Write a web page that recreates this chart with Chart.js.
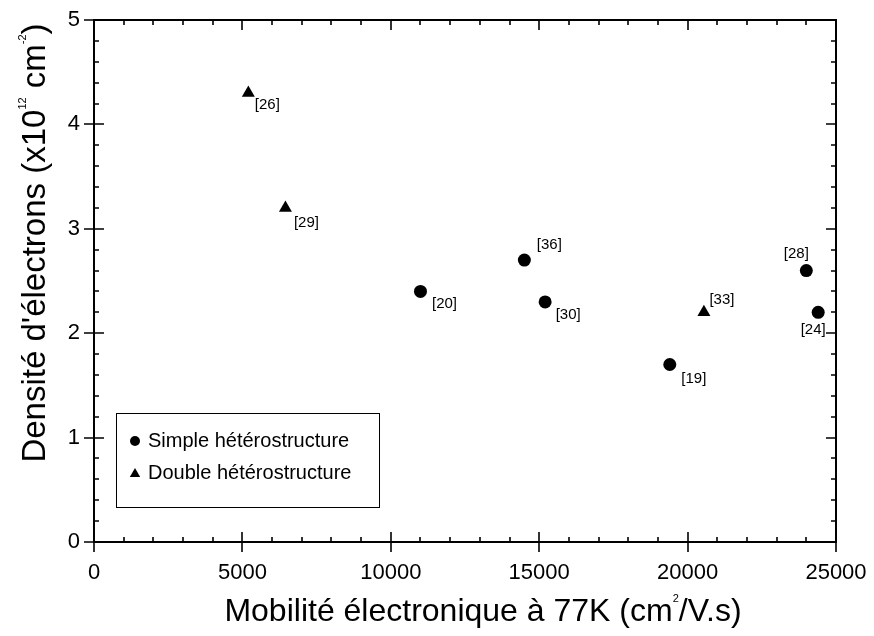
<!DOCTYPE html>
<html><head><meta charset="utf-8">
<script src="https://cdn.jsdelivr.net/npm/chart.js@4/dist/chart.umd.min.js"></script>
<style>html,body{margin:0;padding:0;background:#fff}#wrap{width:874px;height:636px}</style>
</head><body><div id="wrap"><canvas id="c" width="874" height="636"></canvas></div>
<script>
// ---- data ----
const simpleRefs = ['[20]', '[36]', '[30]', '[19]', '[28]', '[24]'];
const simpleMobility = [11000, 14500, 15200, 19400, 24000, 24400];
const simpleDensity = [2.4, 2.7, 2.3, 1.7, 2.6, 2.2];
const doubleRefs = ['[26]', '[29]', '[33]'];
const doubleMobility = [5200, 6450, 20550];
const doubleDensity = [4.3, 3.2, 2.2];
const seriesNames = ['Simple hétérostructure', 'Double hétérostructure'];
const xTicks = [0, 5000, 10000, 15000, 20000, 25000];
const yTicks = [0, 1, 2, 3, 4, 5];

// ---- label placement (style, not data) ----
const labelOffsets = {
  '[20]': [24, 12], '[36]': [25, -15], '[30]': [23, 13], '[19]': [24, 14],
  '[28]': [-10, -17], '[24]': [-5, 18], '[26]': [19, 12], '[29]': [21, 15], '[33]': [18, -12]
};
const FONT = '"Liberation Sans", Arial, sans-serif';

const toPts = (xs, ys) => xs.map((x, i) => ({x: x, y: ys[i]}));

const framePlugin = {
  id: 'frame',
  afterDraw(chart) {
    const {ctx, chartArea: a, scales} = chart;
    const xs = scales.x, ys = scales.y;
    ctx.save();
    ctx.strokeStyle = '#000';
    ctx.lineWidth = 2;
    ctx.strokeRect(a.left, a.top, a.right - a.left, a.bottom - a.top);
    ctx.lineWidth = 1.6;
    ctx.beginPath();
    for (let v = xs.min; v <= xs.max; v += 1000) {
      const px = Math.round(xs.getPixelForValue(v));
      const major = v % 5000 === 0;
      if (major) {
        ctx.moveTo(px, a.bottom - 10); ctx.lineTo(px, a.bottom + 10);
        ctx.moveTo(px, a.top); ctx.lineTo(px, a.top + 10);
      } else {
        ctx.moveTo(px, a.bottom); ctx.lineTo(px, a.bottom - 5);
        ctx.moveTo(px, a.top); ctx.lineTo(px, a.top + 5);
      }
    }
    for (let k = 0; k <= 25; k++) {
      const v = k / 5;
      const py = Math.round(ys.getPixelForValue(v));
      if (k % 5 === 0) {
        ctx.moveTo(a.left - 10, py); ctx.lineTo(a.left + 10, py);
        ctx.moveTo(a.right, py); ctx.lineTo(a.right - 10, py);
      } else {
        ctx.moveTo(a.left, py); ctx.lineTo(a.left + 5, py);
        ctx.moveTo(a.right, py); ctx.lineTo(a.right - 5, py);
      }
    }
    ctx.stroke();

    // point labels
    ctx.fillStyle = '#000';
    ctx.font = '15px ' + FONT;
    ctx.textAlign = 'center';
    ctx.textBaseline = 'middle';
    chart.data.datasets.forEach((ds, di) => {
      const meta = chart.getDatasetMeta(di);
      ds.refs.forEach((r, i) => {
        const el = meta.data[i];
        const o = labelOffsets[r] || [15, 12];
        ctx.fillText(r, el.x + o[0], el.y + o[1]);
      });
    });

    // legend box
    const lx = 116, ly = 413, lw = 263, lh = 94;
    ctx.lineWidth = 1;
    ctx.strokeRect(lx + 0.5, ly + 0.5, lw, lh);
    ctx.font = '20px ' + FONT;
    ctx.textAlign = 'left';
    const rows = [[441, 'circle', 5], [473, 'triangle', 6]];
    rows.forEach((r, i) => {
      Chart.helpers.drawPoint(ctx, {pointStyle: r[1], radius: r[2], borderWidth: 0}, 135, r[0] + (r[1] === 'triangle' ? 1 : 0));
      ctx.fillText(seriesNames[i], 148, r[0]);
    });

    // axis titles with small superscripts
    const drawRich = (parts, cx, cy, rot, sz) => {
      ctx.save();
      ctx.translate(cx, cy);
      ctx.rotate(rot);
      ctx.textAlign = 'left';
      ctx.textBaseline = 'alphabetic';
      let w = 0;
      parts.forEach(p => { ctx.font = (p[1] ? 11 : sz) + 'px ' + FONT; w += ctx.measureText(p[0]).width; });
      let x = -w / 2;
      parts.forEach(p => {
        ctx.font = (p[1] ? 11 : sz) + 'px ' + FONT;
        ctx.fillText(p[0], x, sz * 0.36 + (p[1] ? -sz * 0.58 : 0));
        x += ctx.measureText(p[0]).width;
      });
      ctx.restore();
    };
    drawRich([['Mobilité électronique à 77K (cm', 0], ['2', 1], ['/V.s)', 0]], 483, 609, 0, 32);
    drawRich([['Densité d\'électrons (x10', 0], ['12', 1], [' cm', 0], ['-2', 1], [')', 0]], 33, 243, -Math.PI / 2, 33);
    ctx.restore();
  }
};

new Chart(document.getElementById('c'), {
  type: 'scatter',
  data: {
    datasets: [
      {label: seriesNames[0], refs: simpleRefs, data: toPts(simpleMobility, simpleDensity),
       pointStyle: 'circle', radius: 6.5, backgroundColor: '#000', borderColor: '#000', borderWidth: 0},
      {label: seriesNames[1], refs: doubleRefs, data: toPts(doubleMobility, doubleDensity),
       pointStyle: 'triangle', radius: 7.5, backgroundColor: '#000', borderColor: '#000', borderWidth: 0}
    ]
  },
  options: {
    responsive: false,
    animation: false,
    layout: {padding: {top: 20, right: 38, left: 0, bottom: 0}},
    plugins: {legend: {display: false}, tooltip: {enabled: false}},
    scales: {
      x: {
        type: 'linear', min: 0, max: 25000,
        afterBuildTicks: s => { s.ticks = xTicks.map(v => ({value: v})); },
        afterFit: s => { s.height = 94; s.paddingLeft = 0; s.paddingRight = 0; },
        grid: {display: false}, border: {display: false},
        ticks: {color: '#000', font: {family: FONT, size: 22}, padding: 10, maxRotation: 0,
                callback: v => String(v)}
      },
      y: {
        type: 'linear', min: 0, max: 5,
        afterBuildTicks: s => { s.ticks = yTicks.map(v => ({value: v})); },
        afterFit: s => { s.width = 94; s.paddingTop = 0; s.paddingBottom = 0; },
        grid: {display: false}, border: {display: false},
        ticks: {color: '#000', font: {family: FONT, size: 22}, padding: 6,
                callback: v => String(v)}
      }
    }
  },
  plugins: [framePlugin]
});
</script></body></html>
